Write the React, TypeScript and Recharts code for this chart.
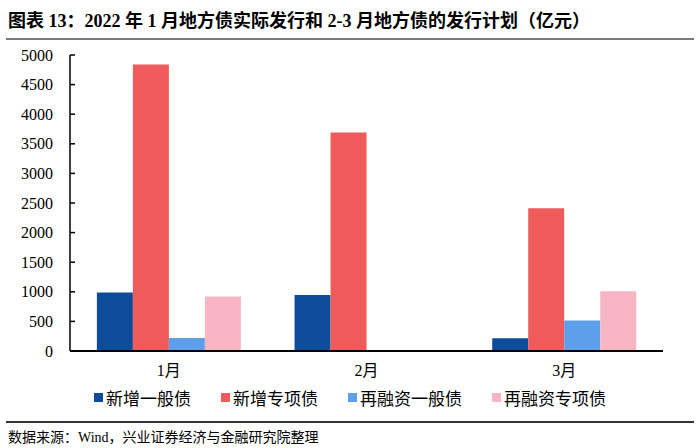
import { BarChart, Bar, XAxis, YAxis } from 'recharts';

const months = ['1月', '2月', '3月'];
const newGeneral = [990, 945, 215];
const newSpecial = [4840, 3690, 2410];
const refiGeneral = [220, 0, 515];
const refiSpecial = [920, 0, 1010];
const yTicks = [0, 500, 1000, 1500, 2000, 2500, 3000, 3500, 4000, 4500, 5000];

const seriesNames = ['新增一般债', '新增专项债', '再融资一般债', '再融资专项债'];
const seriesColors = ['#0c4c9b', '#ef5a5a', '#5e9feb', '#f8b6c5'];

const FONT = '"Liberation Serif", "Noto Sans CJK SC", serif';
const Y_TICK_MARGIN = 17;

// y ticks: label on the left, tick mark pointing into the plot
function YTick(props: any) {
  const { x, y, payload } = props;
  const axisX = x + Y_TICK_MARGIN;
  return (
    <g>
      {payload.value !== 0 && (
        <line x1={axisX} x2={axisX + 5} y1={y} y2={y} stroke="#000" strokeWidth={1.5} />
      )}
      <text x={x} y={y} dy="0.355em" textAnchor="end" fill="#000" fontSize={16} fontFamily={FONT}>
        {payload.value}
      </text>
    </g>
  );
}

export default function App() {
  const data = months.map((m, i) => ({
    month: m,
    s0: newGeneral[i],
    s1: newSpecial[i],
    s2: refiGeneral[i],
    s3: refiSpecial[i],
  }));

  return (
    <div style={{ position: 'absolute', left: 0, top: 0, width: 700, height: 448, background: '#fff', fontFamily: FONT }}>
      <div style={{ position: 'absolute', left: 8, top: 6, fontSize: 18, fontWeight: 'bold', color: '#000', whiteSpace: 'nowrap' }}>
        图表 13：2022 年 1 月地方债实际发行和 2-3 月地方债的发行计划（亿元）
      </div>
      <div style={{ position: 'absolute', left: 6, top: 38, width: 688, height: 2, background: '#7a7a7a' }} />

      <div style={{ position: 'absolute', left: 0, top: 0 }}>
        <BarChart
          width={700}
          height={448}
          data={data}
          margin={{ top: 55, right: 37, left: 10, bottom: 67 }}
          barCategoryGap="13.6%"
          barGap={0}
        >
          <XAxis
            dataKey="month"
            axisLine={{ stroke: '#000', strokeWidth: 2 }}
            tickLine={false}
            tickSize={6}
            tickMargin={8}
            height={30}
            tick={{ fill: '#000', fontSize: 16, fontFamily: FONT }}
          />
          <YAxis
            type="number"
            domain={[0, 5000]}
            ticks={yTicks}
            width={60}
            axisLine={{ stroke: '#000', strokeWidth: 1.5 }}
            tickLine={false}
            tickSize={0}
            tickMargin={Y_TICK_MARGIN}
            interval={0}
            tick={<YTick />}
          />
          {seriesNames.map((name, i) => (
            <Bar key={name} dataKey={`s${i}`} name={name} fill={seriesColors[i]} isAnimationActive={false} />
          ))}
        </BarChart>
      </div>

      {/* legend */}
      <div style={{ position: 'absolute', left: 0, top: 385, width: 700, display: 'flex', justifyContent: 'center', gap: 30, fontSize: 17, color: '#000' }}>
        {seriesNames.map((name, i) => (
          <div key={name} style={{ display: 'flex', alignItems: 'center' }}>
            <span style={{ display: 'inline-block', width: 9, height: 9, background: seriesColors[i], marginRight: 3 }} />
            <span>{name}</span>
          </div>
        ))}
      </div>

      <div style={{ position: 'absolute', left: 6, top: 421, width: 688, height: 1.5, background: '#333' }} />
      <div style={{ position: 'absolute', left: 8, top: 426, fontSize: 14, color: '#000', whiteSpace: 'nowrap' }}>
        数据来源：Wind，兴业证券经济与金融研究院整理
      </div>
    </div>
  );
}
